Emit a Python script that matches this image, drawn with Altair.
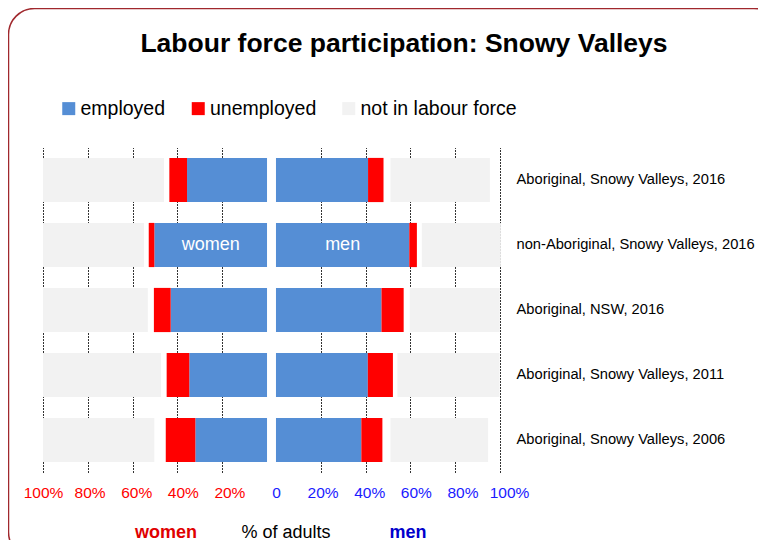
import altair as alt
import pandas as pd

# ---- data ----
categories = [
    "Aboriginal, Snowy Valleys, 2016",
    "non-Aboriginal, Snowy Valleys, 2016",
    "Aboriginal, NSW, 2016",
    "Aboriginal, Snowy Valleys, 2011",
    "Aboriginal, Snowy Valleys, 2006",
]
women_employed = [35.7, 50.3, 43.0, 34.7, 32.0]
women_unemployed = [7.9, 2.5, 7.5, 10.1, 13.2]
women_not_stated = [2.4, 2.1, 2.7, 2.5, 5.1]
women_not_in_lf = [54.0, 45.1, 46.8, 52.7, 49.7]

men_employed = [41.1, 59.5, 47.1, 41.0, 38.1]
men_unemployed = [6.9, 3.4, 9.9, 11.2, 9.4]
men_not_stated = [3.1, 2.2, 2.7, 2.0, 3.6]
men_not_in_lf = [44.4, 35.3, 40.2, 45.6, 43.6]

legend_order = ["employed", "unemployed", "not in labour force"]
legend_colors = ["#558ed5", "#ff0000", "#f2f2f2"]
tick_percents = [20, 40, 60, 80, 100]

title_text = "Labour force participation: Snowy Valleys"
bottom_texts = ["women", "% of adults", "men"]

gap = 2.0  # half of the white gap between the two halves, in % units

segments = ["employed", "unemployed", "not stated", "not in labour force"]
rows = []
for i, cat in enumerate(categories):
    for sex, sign, vals in [
        ("women", -1, [women_employed[i], women_unemployed[i], women_not_stated[i], women_not_in_lf[i]]),
        ("men", 1, [men_employed[i], men_unemployed[i], men_not_stated[i], men_not_in_lf[i]]),
    ]:
        cum = 0.0
        for seg, v in zip(segments, vals):
            start = cum
            cum += v
            if seg == "not stated":
                continue
            rows.append(dict(category=cat, sex=sex, segment=seg,
                             x=sign * (gap + start), x2=sign * (gap + cum), value=v))
df = pd.DataFrame(rows)

inbar = df[(df.category == categories[1]) & (df.segment == "employed")].copy()
inbar["mid"] = (inbar["x"] + inbar["x2"]) / 2

tick_values = [-(gap + p) for p in reversed(tick_percents)] + [0] + [gap + p for p in tick_percents]

FONT = "Liberation Sans"

xscale = alt.Scale(domain=[-(gap + 100), gap + 100], nice=False, zero=False)
yscale = alt.Scale(paddingInner=0.32, paddingOuter=0.16)

# tick labels in the reference are spread slightly wider than the gridlines
label_dx = ("4.5 + 2.33 * (datum.value - 2 * (datum.value < 0 ? -1 : datum.value > 0 ? 1 : 0))"
            " - 2.24 * datum.value")

bars = alt.Chart(df).mark_bar().encode(
    x=alt.X("x:Q", scale=xscale, title=None, axis=alt.Axis(
        values=tick_values,
        labelExpr="datum.value == 0 ? '0' : format(abs(datum.value) - 2, '.0f') + '%'",
        grid=True, gridDash=[2, 1], gridColor="#333333", gridWidth=1,
        gridOpacity={"condition": {"test": "datum.value == 0", "value": 0}, "value": 1},
        labelColor={"condition": {"test": "datum.value < 0", "value": "#ff0000"}, "value": "#1a1aff"},
        labelOffset=alt.ExprRef(expr=label_dx),
        labelFlush=False, labelOverlap=False, labelBound=False,
        domain=False, ticks=False, labelFont=FONT, labelFontSize=15.5, labelPadding=13,
    )),
    x2="x2:Q",
    y=alt.Y("category:N", sort=categories, scale=yscale, title=None, axis=alt.Axis(
        orient="right", domain=False, ticks=False, labelAlign="left", labelPadding=16,
        labelFont=FONT, labelFontSize=14.7, labelColor="black", labelLimit=400,
    )),
    color=alt.Color("segment:N", scale=alt.Scale(domain=legend_order, range=legend_colors),
                    legend=alt.Legend(
                        orient="none", legendX=16, legendY=-49, direction="horizontal", title=None,
                        symbolType="square", symbolSize=169, symbolStrokeWidth=0,
                        labelFontSize=19.5, labelFont=FONT, labelColor="black", labelOffset=2,
                        columnPadding=22.5, labelLimit=400,
                    )),
)

inbar_text = alt.Chart(inbar).mark_text(color="white", fontSize=18, font=FONT).encode(
    x=alt.X("mid:Q", scale=xscale),
    y=alt.Y("category:N", sort=categories, scale=yscale),
    text="sex:N",
)

single = pd.DataFrame({"t": [title_text]})
title = alt.Chart(single).mark_text(fontSize=26.5, fontWeight="bold", font=FONT, color="black",
                                     baseline="alphabetic").encode(
    x=alt.value(361), y=alt.value(-95.5), text="t:N")

b1 = alt.Chart(pd.DataFrame({"t": [bottom_texts[0]]})).mark_text(
    fontSize=18, fontWeight="bold", font=FONT, color="#e00000", baseline="alphabetic").encode(
    x=alt.value(123), y=alt.value(390), text="t:N")
b2 = alt.Chart(pd.DataFrame({"t": [bottom_texts[1]]})).mark_text(
    fontSize=18, font=FONT, color="black", baseline="alphabetic").encode(
    x=alt.value(243), y=alt.value(390), text="t:N")
b3 = alt.Chart(pd.DataFrame({"t": [bottom_texts[2]]})).mark_text(
    fontSize=18, fontWeight="bold", font=FONT, color="#0000cc", baseline="alphabetic").encode(
    x=alt.value(365), y=alt.value(390), text="t:N")

frame = alt.Chart(single).mark_rect(
    fillOpacity=0, stroke="#a0282d", strokeWidth=1.5, cornerRadius=26).encode(
    x=alt.value(-34.5), x2=alt.value(737), y=alt.value(-139), y2=alt.value(410.5))

chart = alt.layer(frame, bars, inbar_text, title, b1, b2, b3).properties(
    width=457, height=325,
    autosize=alt.AutoSizeParams(type="none"),
    padding={"left": 35, "top": 139.5, "right": 258, "bottom": 67.5},
    background="white",
).configure_view(stroke=None)

chart.save("out.html", embed_options={"renderer": "svg", "actions": False})
